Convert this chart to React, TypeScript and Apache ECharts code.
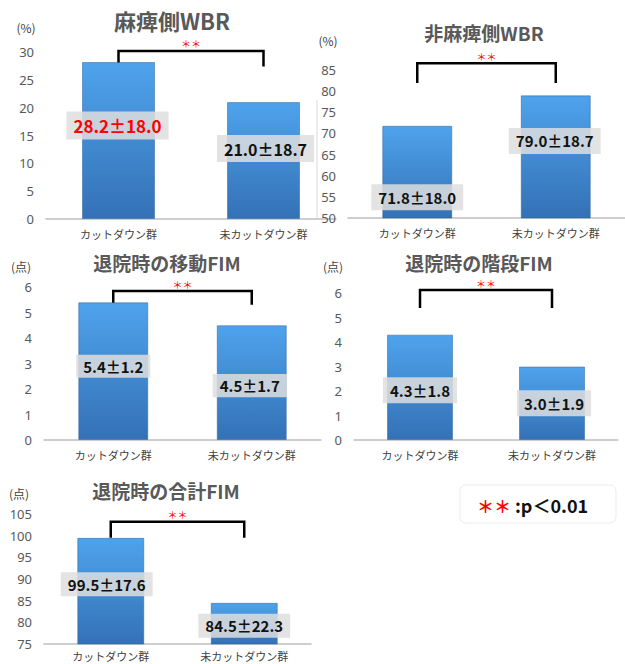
import React, { useEffect, useRef } from 'react';
import * as echarts from 'echarts';

const categories = ['カットダウン群', '未カットダウン群'];
const titles = ['麻痺側WBR', '非麻痺側WBR', '退院時の移動FIM', '退院時の階段FIM', '退院時の合計FIM'];
const units = ['(%)', '(%)', '(点)', '(点)', '(点)'];
const wbrParetic = [28.2, 21.0];
const wbrPareticSd = [18.0, 18.7];
const wbrNonParetic = [71.8, 79.0];
const wbrNonPareticSd = [18.0, 18.7];
const fimMobility = [5.4, 4.5];
const fimMobilitySd = [1.2, 1.7];
const fimStairs = [4.3, 3.0];
const fimStairsSd = [1.8, 1.9];
const fimTotal = [99.5, 84.5];
const fimTotalSd = [17.6, 22.3];
const axisMin = [0, 50, 0, 0, 75];
const axisMax = [30, 85, 6, 6, 105];
const axisStep = [5, 5, 1, 1, 5];
const significance = '＊＊';
const legendText = ':p＜0.01';

const means = [wbrParetic, wbrNonParetic, fimMobility, fimStairs, fimTotal];
const sds = [wbrPareticSd, wbrNonPareticSd, fimMobilitySd, fimStairsSd, fimTotalSd];

// layout (pixels / value-space levels for annotations)
const layout = [
  { left: 46, top: 52, width: 290, height: 167, barWidth: 73, title: [172, 20, 22], unit: [26, 27], offsets: [[-1, -15], [2, -12]], bracket: [30.2, 27.4], labelSize: [17, 16], pad: [6, 7, 5, 7] },
  { left: 348, top: 70, width: 278, height: 148, barWidth: 70, title: [484, 32, 19], unit: [328, 40], offsets: [[0, 25], [-1, -16]], bracket: [86.6, 81.9], labelSize: [15, 15], pad: [6, 7, 5, 7] },
  { left: 44, top: 287, width: 277, height: 153, barWidth: 70, title: [167, 262, 19], unit: [21, 266], offsets: [[0, -5], [-2, 3]], bracket: [5.84, 5.3], labelSize: [15, 15], pad: [4, 7, 4, 7] },
  { left: 354, top: 293, width: 264, height: 147, barWidth: 66, title: [479, 262, 19], unit: [333, 266], offsets: [[0, 3], [2, 0]], bracket: [6.12, 5.39], labelSize: [15, 15], pad: [6, 7, 5, 7] },
  { left: 44, top: 514, width: 267, height: 130, barWidth: 67, title: [166, 490, 19], unit: [19, 493], offsets: [[-4, -7], [0, 2]], bracket: [103.2, 99.5], labelSize: [15, 15], pad: [5, 7, 4, 7] },
];

const CJK = '"Noto Sans CJK JP", "Noto Sans", sans-serif';

export default function App() {
  const ref = useRef<HTMLDivElement>(null);
  useEffect(() => {
    if (!ref.current) return;
    const chart = echarts.init(ref.current, null, { renderer: 'svg' });
    const grid: any[] = [];
    const xAxis: any[] = [];
    const yAxis: any[] = [];
    const series: any[] = [];
    const graphics: any[] = [];

    layout.forEach((L, i) => {
      grid.push({ left: L.left, top: L.top, width: L.width, height: L.height });
      xAxis.push({
        type: 'category', gridIndex: i, data: categories,
        axisLine: { lineStyle: { color: '#bfbfbf', width: 1.5 } },
        axisTick: { show: false },
        axisLabel: { color: '#404040', fontSize: 11, margin: i === 4 ? 6 : 9, fontFamily: CJK },
      });
      yAxis.push({
        type: 'value', gridIndex: i, min: axisMin[i], max: axisMax[i], interval: axisStep[i],
        axisLine: { show: false }, axisTick: { show: false }, splitLine: { show: false },
        axisLabel: { color: '#595959', fontSize: 13, margin: 12, fontFamily: '"Noto Sans", sans-serif' },
      });
      series.push({
        type: 'bar', xAxisIndex: i, yAxisIndex: i, barWidth: L.barWidth,
        itemStyle: {
          color: new echarts.graphic.LinearGradient(0, 0, 0, 1, [
            { offset: 0, color: '#4ea3ec' },
            { offset: 1, color: '#3471b6' },
          ]),
          borderColor: 'rgba(40,95,160,0.5)', borderWidth: 1,
        },
        data: means[i].map((v, j) => ({
          value: v,
          label: {
            show: true, position: 'inside', offset: L.offsets[j],
            formatter: `${v.toFixed(1)}±${sds[i][j].toFixed(1)}`,
            color: i === 0 && j === 0 ? '#ff0000' : '#111111',
            fontSize: L.labelSize[j], fontWeight: 'bold', fontFamily: CJK,
            backgroundColor: 'rgba(222,222,222,0.85)',
            padding: L.pad,
          },
        })),
      });
      const [top, foot] = L.bracket;
      series.push({
        type: 'custom', xAxisIndex: i, yAxisIndex: i, silent: true, clip: false,
        data: [[0, top]],
        renderItem: (_p: any, api: any) => {
          const a = api.coord([0, top]);
          const b = api.coord([1, top]);
          const f = api.coord([0, foot]);
          return {
            type: 'group',
            children: [
              {
                type: 'polyline',
                shape: { points: [[a[0], f[1]], [a[0], a[1]], [b[0], b[1]], [b[0], f[1]]] },
                style: { stroke: '#000', lineWidth: 2.5, fill: null, lineJoin: 'miter' },
              },
              {
                type: 'text', x: (a[0] + b[0]) / 2, y: a[1] - 7,
                style: { text: significance, fill: '#ff0000', fontSize: 10, lineHeight: 10, align: 'center', verticalAlign: 'middle', fontFamily: CJK },
              },
            ],
          };
        },
      });
      graphics.push({
        type: 'text', x: L.title[0], y: L.title[1],
        style: { text: titles[i], fill: '#595959', fontSize: L.title[2], lineHeight: L.title[2], fontWeight: 'bold', fontFamily: CJK, align: 'center', verticalAlign: 'middle' },
      });
      graphics.push({
        type: 'text', x: L.unit[0], y: L.unit[1],
        style: { text: units[i], fill: '#404040', fontSize: 12, fontFamily: CJK, align: 'center', verticalAlign: 'middle' },
      });
    });

    graphics.push({
      type: 'line', shape: { x1: 317, y1: 100, x2: 317, y2: 218 },
      style: { stroke: '#d9d9d9', lineWidth: 1 },
    });
    graphics.push({
      type: 'rect', shape: { x: 460, y: 485, width: 156, height: 38, r: 6 },
      style: { fill: '#ffffff', stroke: '#ececec', lineWidth: 1 },
    });
    graphics.push({
      type: 'text', x: 477, y: 505,
      style: {
        text: `{r|${significance}}{b|${legendText}}`,
        verticalAlign: 'middle',
        rich: {
          r: { fill: '#ff0000', fontSize: 17, fontWeight: 'bold', fontFamily: CJK, padding: [0, 4, 0, 0] },
          b: { fill: '#111111', fontSize: 18, fontWeight: 'bold', fontFamily: CJK },
        },
      },
    });

    chart.setOption({
      animation: false,
      backgroundColor: '#ffffff',
      grid, xAxis, yAxis, series, graphic: graphics,
    });
    return () => chart.dispose();
  }, []);
  return <div ref={ref} style={{ position: 'fixed', left: 0, top: 0, width: 625, height: 664 }} />;
}
